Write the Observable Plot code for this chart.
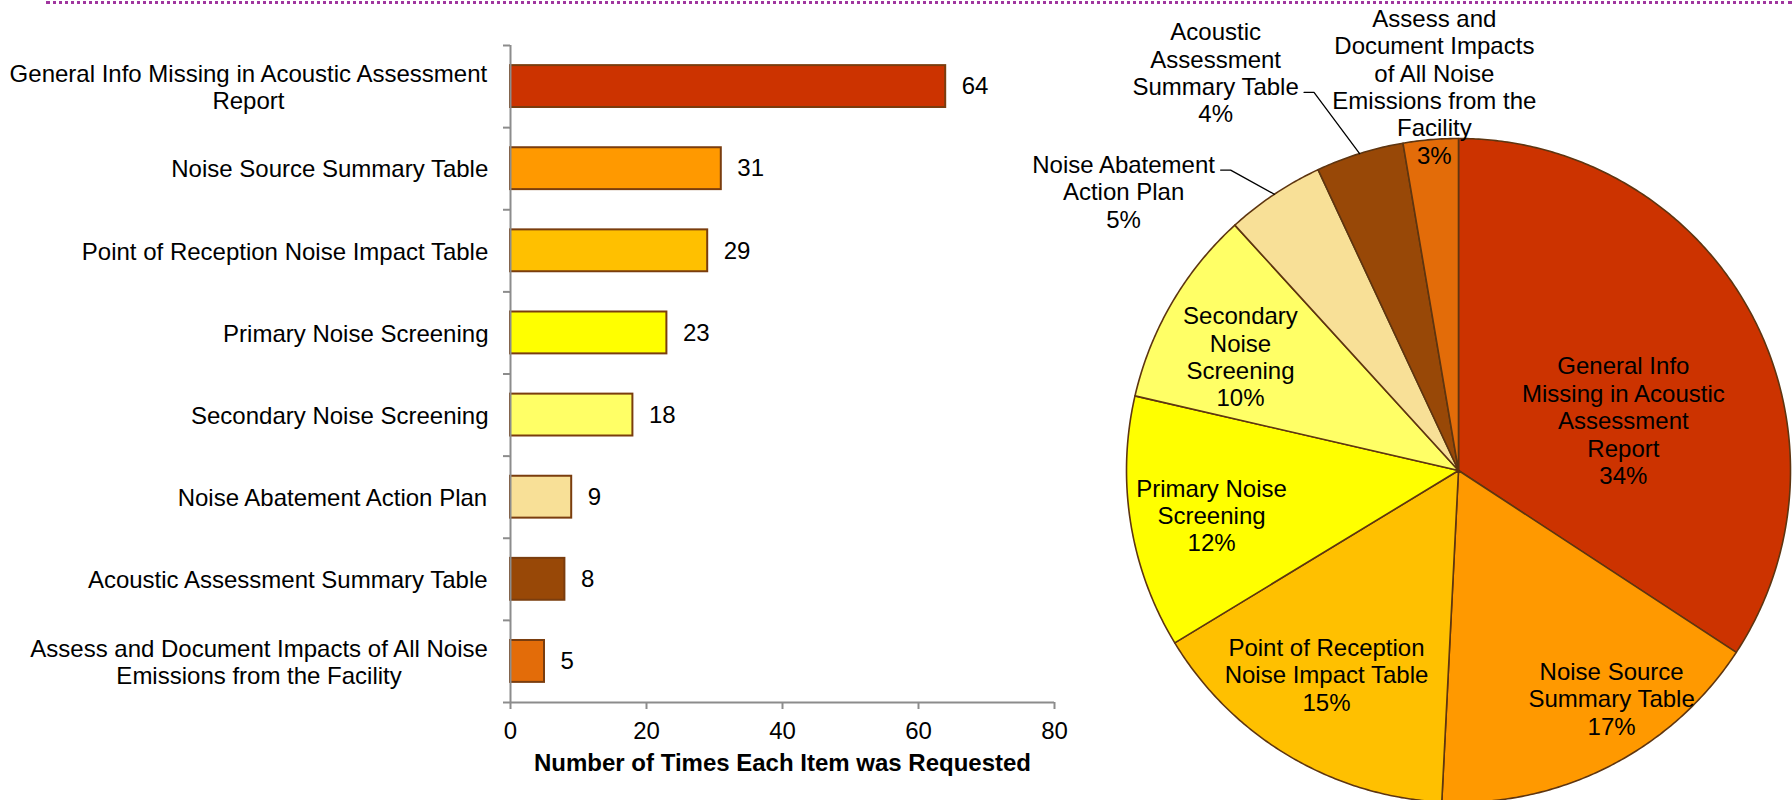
<!DOCTYPE html>
<html><head><meta charset="utf-8">
<script src="https://cdn.jsdelivr.net/npm/d3@7"></script>
<script src="https://cdn.jsdelivr.net/npm/@observablehq/plot@0.6"></script>
<style>
html,body{margin:0;padding:0;background:#fff;}
#root{position:relative;width:1792px;height:800px;overflow:hidden;font-family:"Liberation Sans",Arial,sans-serif;}
#rule{position:absolute;left:46px;right:0;top:1px;border-top:3px dotted #a0369f;}
#bar{position:absolute;left:0;top:0;}
#pie{position:absolute;left:980px;top:0;}
svg{overflow:visible;}
</style></head><body>
<div id="root"><div id="rule"></div><div id="bar"></div><div id="pie"></div></div>
<script>
// ---- data ----
const categories = [
  "General Info Missing in Acoustic Assessment Report",
  "Noise Source Summary Table",
  "Point of Reception Noise Impact Table",
  "Primary Noise Screening",
  "Secondary Noise Screening",
  "Noise Abatement Action Plan",
  "Acoustic Assessment Summary Table",
  "Assess and Document Impacts of All Noise Emissions from the Facility"
];
const barLabels = [
  "General Info Missing in Acoustic Assessment\nReport",
  "Noise Source Summary Table",
  "Point of Reception Noise Impact Table",
  "Primary Noise Screening",
  "Secondary Noise Screening",
  "Noise Abatement Action Plan",
  "Acoustic Assessment Summary Table",
  "Assess and Document Impacts of All Noise\nEmissions from the Facility"
];
const values = [64, 31, 29, 23, 18, 9, 8, 5];
const colors = ["#CC3300", "#FF9900", "#FFC000", "#FFFF00", "#FFFF66", "#F8E097", "#984807", "#E36C09"];
const xTicks = [0, 20, 40, 60, 80];
const axisTitle = "Number of Times Each Item was Requested";
const pieLabels = [
  "General Info\nMissing in Acoustic\nAssessment\nReport",
  "Noise Source\nSummary Table",
  "Point of Reception\nNoise Impact Table",
  "Primary Noise\nScreening",
  "Secondary\nNoise\nScreening",
  "Noise Abatement\nAction Plan",
  "Acoustic\nAssessment\nSummary Table",
  "Assess and\nDocument Impacts\nof All Noise\nEmissions from the\nFacility"
];
const pctLabels = ["34%", "17%", "15%", "12%", "10%", "5%", "4%", "3%"];

// ---- layout (not data) ----
const FONT = '"Liberation Sans", Arial, sans-serif';
const FS = 24, LH = 1.14;
const AXIS = "#8c8c8c", EDGE = "#7a3d0e";
// label placement: [angle in degrees clockwise from top, distance in radii]
const pieLabelPolar = [[73.1, 0.519], [146.1, 0.827], [212.9, 0.732], [259.7, 0.756], [297.6, 0.741], [309.8, 1.313], [328.6, 1.404], [356.4, 1.159]];
const pieLeaders = [{slice: 5, line: 0}, {slice: 6, line: 2}];

const ctx = document.createElement("canvas").getContext("2d");
ctx.font = `${FS}px ${FONT}`;
const textW = s => ctx.measureText(s).width;

const idx = d3.range(categories.length);

// ---- bar chart ----
const gap = 22;
const barPlot = Plot.plot({
  width: 1090, height: 800,
  marginLeft: 510, marginRight: 36, marginTop: 45, marginBottom: 98,
  style: {fontFamily: FONT, fontSize: FS + "px", background: "transparent", color: "black", overflow: "visible"},
  x: {domain: [0, 80]},
  y: {domain: [0, categories.length], reverse: true, axis: null},
  color: {type: "identity"},
  marks: [
    Plot.rectX(idx, {x1: 0, x2: i => values[i], y1: i => i + 0.245, y2: i => i + 0.755,
      fill: i => colors[i], stroke: EDGE, strokeWidth: 2}),
    Plot.ruleX([0], {stroke: AXIS, strokeWidth: 2}),
    Plot.ruleY([categories.length], {stroke: AXIS, strokeWidth: 2}),
    Plot.axisY({ticks: d3.range(categories.length + 1), tickSize: 7, tickFormat: () => "", stroke: AXIS, strokeWidth: 2}),
    Plot.axisX({ticks: xTicks, tickSize: 7, tickPadding: 12, fontSize: FS, stroke: AXIS, strokeWidth: 2, fill: "black", label: null}),
    Plot.text(idx, {x: i => values[i], y: i => i + 0.5, text: i => String(values[i]), dx: 16,
      textAnchor: "start", fontSize: FS, fill: "black"}),
    ...idx.map(i => {
      const w = d3.max(barLabels[i].split("\n"), textW);
      return Plot.text([i], {x: 0, y: d => d + 0.5, text: () => barLabels[i], textAnchor: "middle",
        dx: -(gap + w / 2), fontSize: FS, lineHeight: LH, fill: "black"});
    }),
    Plot.text([axisTitle], {frameAnchor: "bottom", text: d => d, dy: 68, fontWeight: "bold", fontSize: FS, fill: "black"})
  ]
});
document.getElementById("bar").append(barPlot);

// ---- pie chart ----
const R = 332, CX = 478, CY = 470, PW = 812, PH = 800;
const arcs = d3.pie().sort(null).value(d => d)(values);
const slicePts = arcs.map(a => {
  const pts = [{x: 0, y: 0}];
  const n = Math.max(2, Math.ceil((a.endAngle - a.startAngle) / (Math.PI / 360)));
  for (let k = 0; k <= n; k++) {
    const t = a.startAngle + (a.endAngle - a.startAngle) * k / n;
    pts.push({x: Math.sin(t), y: Math.cos(t)});
  }
  return pts;
});
const labelPos = pieLabelPolar.map(([deg, r]) => {
  const t = deg * Math.PI / 180;
  return {x: r * Math.sin(t), y: r * Math.cos(t)};
});
const leaderLines = pieLeaders.map(({slice, line}) => {
  const lines = pieLabels[slice].split("\n").concat([pctLabels[slice]]);
  const n = lines.length;
  const p = labelPos[slice];
  const w = textW(lines[line]);
  const offPx = (line - (n - 1) / 2) * FS * LH + 6;
  const sx = p.x + (w / 2 + 5) / R, sy = p.y - offPx / R;
  const mid = (arcs[slice].startAngle + arcs[slice].endAngle) / 2;
  return [{x: sx, y: sy}, {x: sx + 10 / R, y: sy}, {x: Math.sin(mid), y: Math.cos(mid)}];
});

const piePlot = Plot.plot({
  width: PW, height: PH,
  marginLeft: 0, marginRight: 0, marginTop: 0, marginBottom: 0,
  style: {fontFamily: FONT, fontSize: FS + "px", background: "transparent", color: "black", overflow: "visible"},
  x: {domain: [-CX / R, (PW - CX) / R], range: [0, PW], axis: null},
  y: {domain: [-(PH - CY) / R, CY / R], range: [PH, 0], axis: null},
  marks: [
    ...slicePts.map((pts, i) => Plot.line(pts, {x: "x", y: "y", fill: colors[i], stroke: "#5e3510",
      strokeWidth: 1.6, strokeLinejoin: "round", curve: "linear-closed"})),
    ...leaderLines.map(pts => Plot.line(pts, {x: "x", y: "y", stroke: "black", strokeWidth: 1.3})),
    Plot.text(idx, {x: i => labelPos[i].x, y: i => labelPos[i].y, text: i => pieLabels[i] + "\n" + pctLabels[i],
      textAnchor: "middle", fontSize: FS, lineHeight: LH, fill: "black"})
  ]
});
document.getElementById("pie").append(piePlot);
</script>
</body></html>
